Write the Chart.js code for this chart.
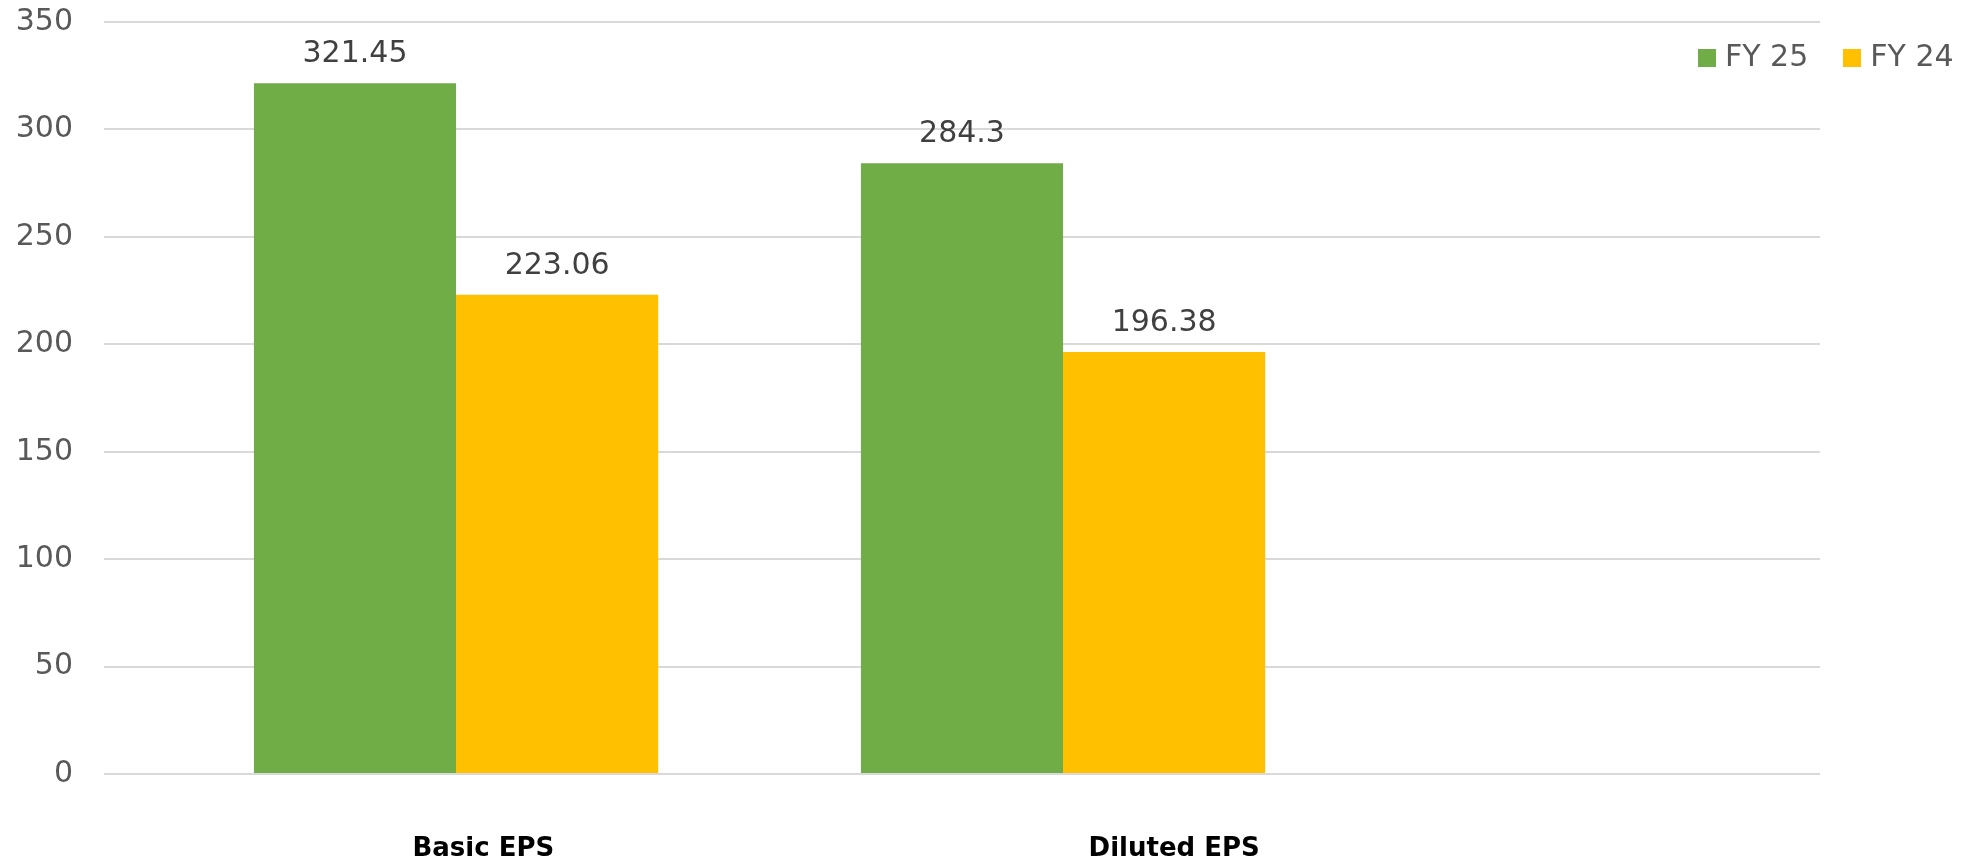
<!DOCTYPE html>
<html>
<head>
<meta charset="utf-8">
<script src="https://cdn.jsdelivr.net/npm/chart.js@4"></script>
<style>
  html, body { margin: 0; padding: 0; background: #fff; }
  .wrap { position: relative; width: 1982px; height: 863px; }
  #legend { position: absolute; left: 1698px; top: 38px; white-space: nowrap; }
  #legend ul { list-style: none; margin: 0; padding: 0; display: flex; }
  #legend li { display: flex; align-items: center; flex: none; margin-right: 35px; font: 30px "DejaVu Sans", sans-serif; color: #595959; }
  #legend li:last-child { margin-right: 0; }
  #legend .box { width: 18px; height: 18px; margin-right: 9px; margin-top: 4px; background: var(--color); }
</style>
</head>
<body>
<div class="wrap">
  <canvas id="chart" width="1982" height="863"></canvas>
  <div id="legend"></div>
</div>
<script>
const CATEGORIES = ['Basic EPS', 'Diluted EPS']
const FY25 = [321.45, 284.3]
const FY24 = [223.06, 196.38]
const SERIES = ['FY 25', 'FY 24']
const COLORS = ['#70ad47', '#ffc000']

// where the bold category captions sit, in axis units (they are not centred under the bars)
const LABEL_AT = [0.045, 1.183]

const toPoints = (values) => values.map((v, i) => ({ x: i, y: v }))

const htmlLegendPlugin = {
  id: 'htmlLegend',
  afterUpdate: (chart, args, options) => {
    const legendContainer = document.getElementById(options.containerId)
    legendContainer.innerHTML = `
      <ul>
        ${chart.data.datasets.map((ds) => (
          `<li><span class="box" style="--color: ${ds.backgroundColor};"></span>${ds.label}</li>`
        )).join('')}
      </ul>
    `
  }
}

const valueLabels = {
  id: 'valueLabels',
  afterDatasetsDraw: (chart) => {
    const { ctx } = chart
    ctx.save()
    ctx.font = '30px "DejaVu Sans", sans-serif'
    ctx.fillStyle = '#404040'
    ctx.textAlign = 'center'
    ctx.textBaseline = 'alphabetic'
    chart.data.datasets.forEach((ds, di) => {
      chart.getDatasetMeta(di).data.forEach((bar, i) => {
        ctx.fillText(String(ds.data[i].y), bar.x, bar.y - 21)
      })
    })
    ctx.restore()
  }
}

const CONFIG = {
  type: 'bar',
  data: {
    datasets: [
      { label: SERIES[0], data: toPoints(FY25), backgroundColor: COLORS[0] },
      { label: SERIES[1], data: toPoints(FY24), backgroundColor: COLORS[1] }
    ]
  },
  options: {
    responsive: false,
    animation: false,
    layout: { padding: { top: 22, right: 162, left: 0, bottom: 0 } },
    datasets: {
      bar: { categoryPercentage: 0.666, barPercentage: 1.0 }
    },
    scales: {
      x: {
        type: 'linear',
        offset: false,
        min: -0.58,
        max: 2.247,
        grid: { display: false },
        border: { display: false },
        afterBuildTicks: (scale) => {
          scale.ticks = LABEL_AT.map((v) => ({ value: v }))
        },
        afterFit: (scale) => {
          scale.height = 89
          scale.paddingLeft = 0
          scale.paddingRight = 0
        },
        ticks: {
          autoSkip: false,
          maxRotation: 0,
          padding: 52,
          color: '#000',
          font: { family: 'DejaVu Sans', size: 26, weight: 'bold' },
          callback: (value, index) => CATEGORIES[index]
        }
      },
      y: {
        min: 0,
        max: 350,
        ticks: {
          stepSize: 50,
          padding: 31,
          color: '#595959',
          font: { family: 'DejaVu Sans', size: 30 }
        },
        grid: { color: '#d9d9d9', lineWidth: 2, drawTicks: false },
        border: { display: false },
        afterFit: (scale) => {
          scale.width = 104
          scale.paddingTop = 0
          scale.paddingBottom = 0
        }
      }
    },
    plugins: {
      htmlLegend: { containerId: 'legend' },
      legend: { display: false },
      tooltip: { enabled: false }
    }
  },
  plugins: [htmlLegendPlugin, valueLabels]
}

// eslint-disable-next-line no-unused-vars
const chart = new Chart(document.getElementById('chart'), CONFIG)
</script>
</body>
</html>
